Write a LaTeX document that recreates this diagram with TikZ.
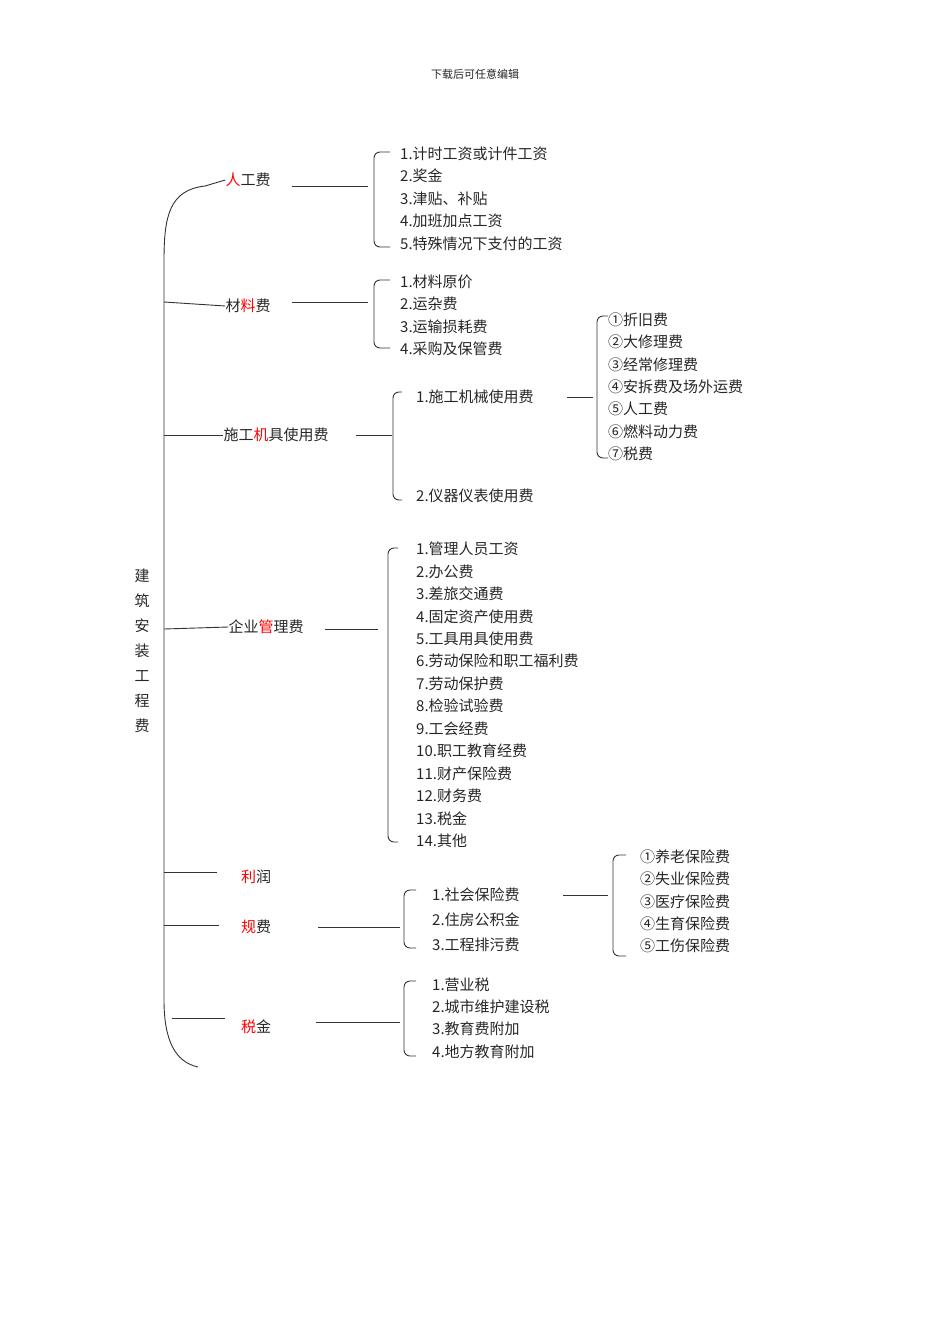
\documentclass[tikz,border=0pt]{standalone}
\usepackage{fontspec}
\setmainfont{Noto Sans CJK SC}
\begin{document}
\begin{tikzpicture}[x=1pt,y=-1pt,
  lbl/.style={inner sep=0pt,font=\fontsize{15}{16}\selectfont,text=black!85},
  itm/.style={lbl,anchor=west},
  ln/.style={draw=black!80,line width=0.9pt},
  brk/.style={ln,rounded corners=6pt}]
\useasboundingbox (0,0) rectangle (950,1344);
\def\R#1{\textcolor{red}{#1}}
\node[lbl,font=\fontsize{11}{12}\selectfont] (hdr) at (475,74) {下载后可任意编辑};
% main
\foreach \c [count=\i] in {建,筑,安,装,工,程,费}
  \node[lbl] (m\i) at (142,551+25*\i) {\c};
\draw[ln] (205,186) .. controls (170,190) and (164,215) .. (164,260) -- (164,1000) .. controls (164,1040) and (175,1062) .. (198,1067);
% level 1
\node[lbl] (a) at (248,180) {\R{人}工费};
\node[lbl] (b) at (248,306) {材\R{料}费};
\node[lbl] (c) at (276,435) {施工\R{机}具使用费};
\node[lbl] (d) at (266,627) {企业\R{管}理费};
\node[lbl] (e) at (256,877) {\R{利}润};
\node[lbl] (f) at (256,927) {\R{规}费};
\node[lbl] (g) at (256,1027) {\R{税}金};
\draw[ln] (205,186) -- (a.west);
\draw[ln] (164,302) -- (b.west);
\draw[ln] (164,435) -- (c.west);
\draw[ln] (164,629) -- (d.west);
\draw[ln] (164,872) -- (217,872);
\draw[ln] (164,925) -- (219,925);
\draw[ln] (172,1018) -- (225,1018);
% 人工费
\draw[ln] (292,186) -- (368,186);
\draw[brk] (390,152) -- (374,152) -- (374,247) -- (390,247);
\foreach \t [count=\i] in {1.计时工资或计件工资,2.奖金,3.津贴、补贴,4.加班加点工资,5.特殊情况下支付的工资}
  \node[itm] (a\i) at (400,131+22.5*\i) {\t};
% 材料费
\draw[ln] (292,302) -- (368,302);
\draw[brk] (390,280) -- (374,280) -- (374,348) -- (390,348);
\foreach \t [count=\i] in {1.材料原价,2.运杂费,3.运输损耗费,4.采购及保管费}
  \node[itm] (b\i) at (400,259+22.5*\i) {\t};
% 施工机具
\draw[ln] (356,435) -- (392,435);
\draw[brk] (402,392) -- (393,392) -- (393,500) -- (402,500);
\node[itm] (c1) at (416,397) {1.施工机械使用费};
\node[itm] (c2) at (416,496) {2.仪器仪表使用费};
\draw[ln] (567,397) -- (593,397);
\draw[brk] (608,316) -- (597,316) -- (597,458) -- (608,458);
\foreach \t [count=\i] in {①折旧费,②大修理费,③经常修理费,④安拆费及场外运费,⑤人工费,⑥燃料动力费,⑦税费}
  \node[itm] (cc\i) at (608,297.5+22.3*\i) {\t};
% 企业管理费
\draw[ln] (325,629) -- (378,629);
\draw[brk] (398,548) -- (388,548) -- (388,842) -- (398,842);
\foreach \t [count=\i] in {1.管理人员工资,2.办公费,3.差旅交通费,4.固定资产使用费,5.工具用具使用费,6.劳动保险和职工福利费,7.劳动保护费,8.检验试验费,9.工会经费,10.职工教育经费,11.财产保险费,12.财务费,13.税金,14.其他}
  \node[itm] (d\i) at (416,526.5+22.45*\i) {\t};
% 规费
\draw[ln] (318,927) -- (400,927);
\draw[brk] (416,890) -- (404,890) -- (404,948) -- (416,948);
\foreach \t/\y [count=\i] in {1.社会保险费/895,2.住房公积金/920,3.工程排污费/945}
  \node[itm] (f\i) at (432,\y) {\t};
\draw[ln] (563,895) -- (608,895);
\draw[brk] (626,855) -- (613,855) -- (613,956) -- (626,956);
\foreach \t [count=\i] in {①养老保险费,②失业保险费,③医疗保险费,④生育保险费,⑤工伤保险费}
  \node[itm] (ff\i) at (640,834.5+22.3*\i) {\t};
% 税金
\draw[ln] (316,1022) -- (400,1022);
\draw[brk] (416,981) -- (404,981) -- (404,1056) -- (416,1056);
\foreach \t [count=\i] in {1.营业税,2.城市维护建设税,3.教育费附加,4.地方教育附加}
  \node[itm] (g\i) at (432,962.5+22.2*\i) {\t};
\end{tikzpicture}
\end{document}
